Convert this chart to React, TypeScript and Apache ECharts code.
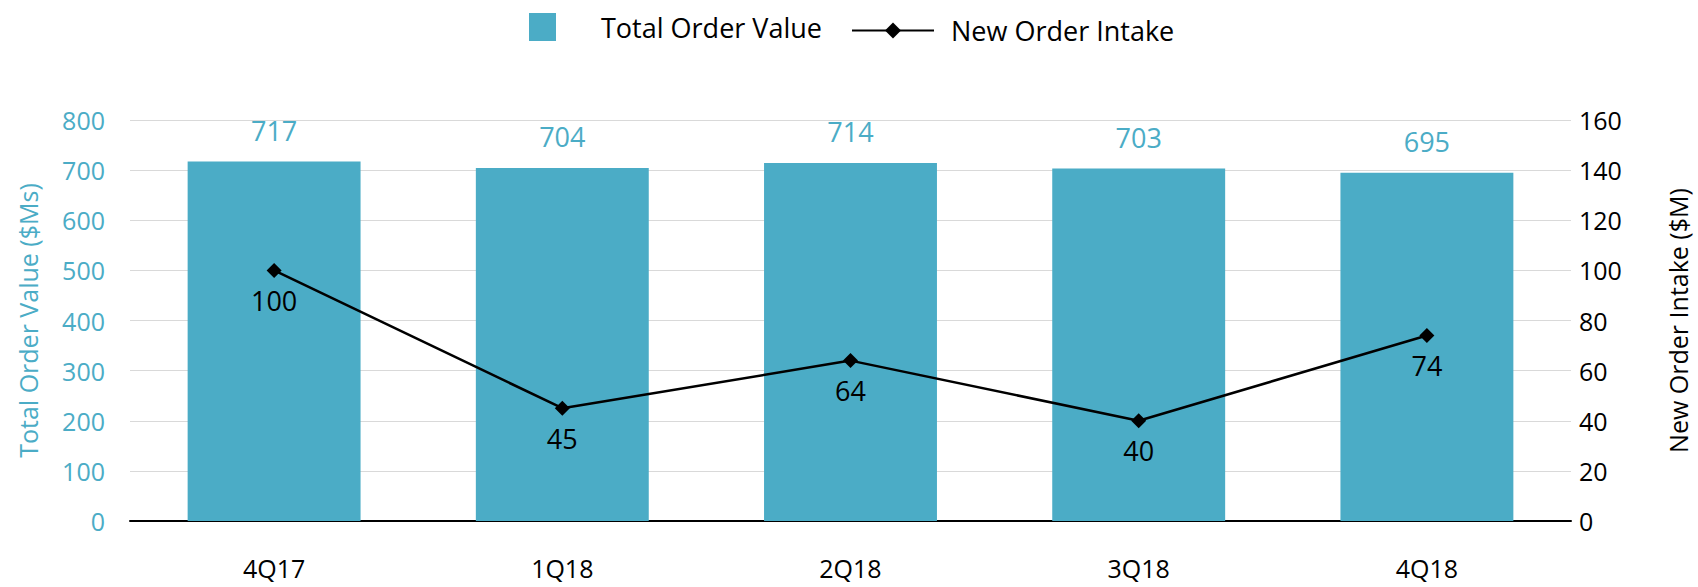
import React, { useEffect, useRef } from "react";
import * as echarts from "echarts";

const categories = ["4Q17", "1Q18", "2Q18", "3Q18", "4Q18"];
const totalOrderValue = [717, 704, 714, 703, 695];
const newOrderIntake = [100, 45, 64, 40, 74];

const BLUE = "#4BACC6";
const FONT = "'Open Sans', sans-serif";

export default function App() {
  const ref = useRef<HTMLDivElement>(null);
  useEffect(() => {
    if (!ref.current) return;
    const chart = echarts.init(ref.current, null, { renderer: "svg" });
    chart.setOption({
      animation: false,
      textStyle: { fontFamily: FONT },
      legend: [
        {
          data: ["Total Order Value"],
          left: 524,
          top: 8,
          itemWidth: 27,
          itemHeight: 28,
          icon: "rect",
          textStyle: { fontSize: 27, color: "#000", fontFamily: FONT, padding: [0, 0, 0, 40] },
        },
        {
          data: ["New Order Intake"],
          left: 846,
          top: 12,
          itemWidth: 82,
          itemHeight: 20,
          textStyle: { fontSize: 27, color: "#000", fontFamily: FONT, padding: [0, 0, 0, 12] },
        },
      ],
      grid: { left: 130, right: 124, top: 120, bottom: 66 },
      xAxis: {
        type: "category",
        data: categories,
        axisLine: { lineStyle: { color: "#000", width: 2 } },
        axisTick: { alignWithLabel: true, length: 12, lineStyle: { color: "#000", width: 1 } },
        axisLabel: { color: "#000", fontSize: 25, margin: 34, fontFamily: FONT },
      },
      yAxis: [
        {
          type: "value",
          min: 0,
          max: 800,
          interval: 100,
          name: "Total Order Value ($Ms)",
          nameLocation: "middle",
          nameRotate: 90,
          nameGap: 90,
          nameTextStyle: { color: BLUE, fontSize: 25, fontFamily: FONT },
          axisLine: { show: false },
          axisTick: { show: false },
          axisLabel: { color: BLUE, fontSize: 25, margin: 25, fontFamily: FONT },
          splitLine: { lineStyle: { color: "#d9d9d9", width: 1 } },
        },
        {
          type: "value",
          min: 0,
          max: 160,
          interval: 20,
          name: "New Order Intake ($M)",
          nameLocation: "middle",
          nameRotate: 90,
          nameGap: 94,
          nameTextStyle: { color: "#000", fontSize: 25, fontFamily: FONT },
          axisLine: { show: false },
          axisTick: { show: false },
          axisLabel: { color: "#000", fontSize: 25, margin: 8, fontFamily: FONT },
          splitLine: { show: false },
        },
      ],
      series: [
        {
          name: "Total Order Value",
          type: "bar",
          data: totalOrderValue,
          barWidth: "60%",
          itemStyle: { color: BLUE },
          label: {
            show: true,
            position: "top",
            distance: 18,
            color: BLUE,
            fontSize: 27,
            fontFamily: FONT,
          },
        },
        {
          name: "New Order Intake",
          type: "line",
          yAxisIndex: 1,
          data: newOrderIntake,
          symbol: "diamond",
          symbolSize: 15,
          itemStyle: { color: "#000" },
          lineStyle: { color: "#000", width: 2.5 },
          label: {
            show: true,
            position: "bottom",
            distance: 9,
            color: "#000",
            fontSize: 27,
            fontFamily: FONT,
          },
        },
      ],
    });
    return () => chart.dispose();
  }, []);
  return (
    <div
      ref={ref}
      style={{ position: "fixed", left: 0, top: 0, width: 1698, height: 587, background: "#fff" }}
    />
  );
}
